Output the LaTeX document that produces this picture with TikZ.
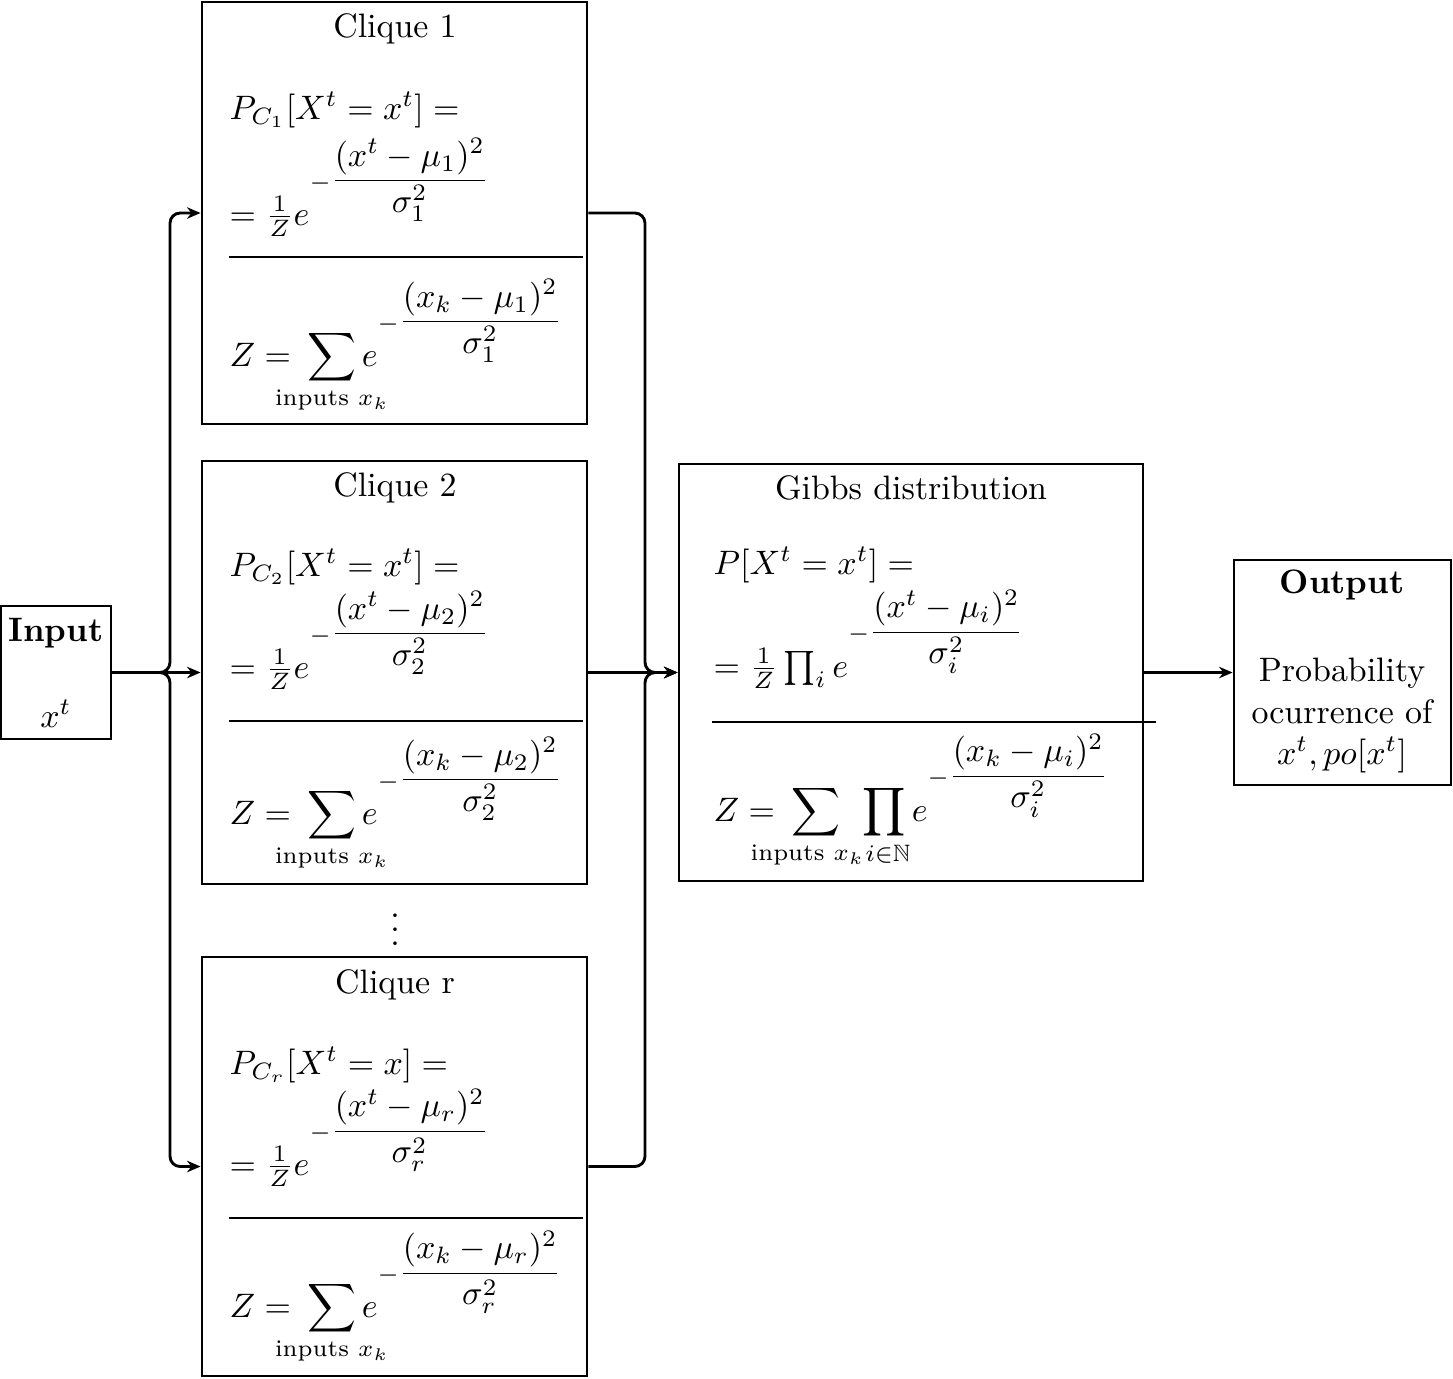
\documentclass[tikz,border=0pt]{standalone}
\usepackage{amsmath,amssymb,mathtools}
\usetikzlibrary{arrows.meta,fit}
\begin{document}
\begin{tikzpicture}[x=0.295pt,y=-0.295pt,
  box/.style={draw, line width=0.85pt, inner sep=0pt},
  conn/.style={line width=0.85pt, -{Stealth[length=4pt,width=3.4pt,inset=1.3pt]}, rounded corners=3pt},
  lbl/.style={inner sep=0pt, anchor=base west},
  ttl/.style={inner sep=0pt, anchor=base},
  sep/.style={line width=0.4pt}]
\useasboundingbox (0,0) rectangle (1453,1378);

% boxes
\node[box, fit={(1,606) (111,739)}] (in) {};
\node[box, fit={(202,2) (587,424)}] (c1) {};
\node[box, fit={(202,461) (587,884)}] (c2) {};
\node[box, fit={(202,957) (587,1376)}] (cr) {};
\node[box, fit={(679,464) (1143,881)}] (gb) {};
\node[box, fit={(1234,560) (1451,785)}] (out) {};

% input
\node[ttl, font=\bfseries] (inT) at (56,641) {Input};
\node[ttl] (inX) at (56,727) {$x^t$};

% clique 1
\node[ttl] (c1t) at (395,37) {Clique 1};
\node[lbl] (c1a) at (229,119) {$P_{C_1}[X^t = x^t] =$};
\node[lbl] (c1b) at (229,225) {$= \frac{1}{Z}e^{-\dfrac{(x^t-\mu_1)^2}{\sigma_1^2}}$};
\draw[sep] (229,257) -- (583,257);
\node[lbl] (c1c) at (229,366) {$Z = \kern2pt\displaystyle\sum_{\mathclap{\text{inputs } x_k}} e^{-\dfrac{(x_k-\mu_1)^2}{\sigma_1^2}}$};

% clique 2
\node[ttl] (c2t) at (395,496) {Clique 2};
\node[lbl] (c2a) at (229,576) {$P_{C_2}[X^t = x^t] =$};
\node[lbl] (c2b) at (229,678) {$= \frac{1}{Z}e^{-\dfrac{(x^t-\mu_2)^2}{\sigma_2^2}}$};
\draw[sep] (229,721) -- (583,721);
\node[lbl] (c2c) at (229,824) {$Z = \kern2pt\displaystyle\sum_{\mathclap{\text{inputs } x_k}} e^{-\dfrac{(x_k-\mu_2)^2}{\sigma_2^2}}$};

% dots
\node[ttl] (dots) at (395,945) {$\vdots$};

% clique r
\node[ttl] (crt) at (395,993) {Clique r};
\node[lbl] (cra) at (229,1074) {$P_{C_r}[X^t = x] =$};
\node[lbl] (crb) at (229,1175) {$= \frac{1}{Z}e^{-\dfrac{(x^t-\mu_r)^2}{\sigma_r^2}}$};
\draw[sep] (229,1218) -- (583,1218);
\node[lbl] (crc) at (229,1317) {$Z = \kern2pt\displaystyle\sum_{\mathclap{\text{inputs } x_k}} e^{-\dfrac{(x_k-\mu_r)^2}{\sigma_r^2}}$};

% gibbs
\node[ttl] (gt) at (911,499) {Gibbs distribution};
\node[lbl] (ga) at (713,574) {$P[X^t = x^t] =$};
\node[lbl] (gl) at (713,677) {$= \frac{1}{Z}\prod_i e^{-\dfrac{(x^t-\mu_i)^2}{\sigma_i^2}}$};
\draw[sep] (712,722) -- (1156,722);
\node[lbl] (gc) at (713,821) {$Z = \kern2pt\displaystyle\sum_{\mathclap{\text{inputs } x_k\kern5pt}}\mkern9mu\prod_{\mathclap{\kern2pt i\in\mathbb{N}}} e^{-\dfrac{(x_k-\mu_i)^2}{\sigma_i^2}}$};

% output
\node[ttl, font=\bfseries] (oT) at (1342,593) {Output};
\node[ttl] (o1) at (1342,681) {Probability};
\node[ttl] (o2) at (1342,723) {ocurrence of};
\node[ttl] (o3) at (1342,764) {$x^t, po[x^t]$};

% connectors
\coordinate (bl) at (170,672.5);
\coordinate (br) at (645,672.5);
\draw[conn] (in.east) -- (c2.west);
\draw[conn] (in.east) -- (bl) |- (c1.west);
\draw[conn] (in.east) -- (bl) |- (cr.west);
\draw[conn] (c1.east) -| (br) -- (gb.west);
\draw[conn] (c2.east) -- (gb.west);
\draw[conn] (cr.east) -| (br) -- (gb.west);
\draw[conn] (gb.east) -- (out.west);
\end{tikzpicture}
\end{document}
